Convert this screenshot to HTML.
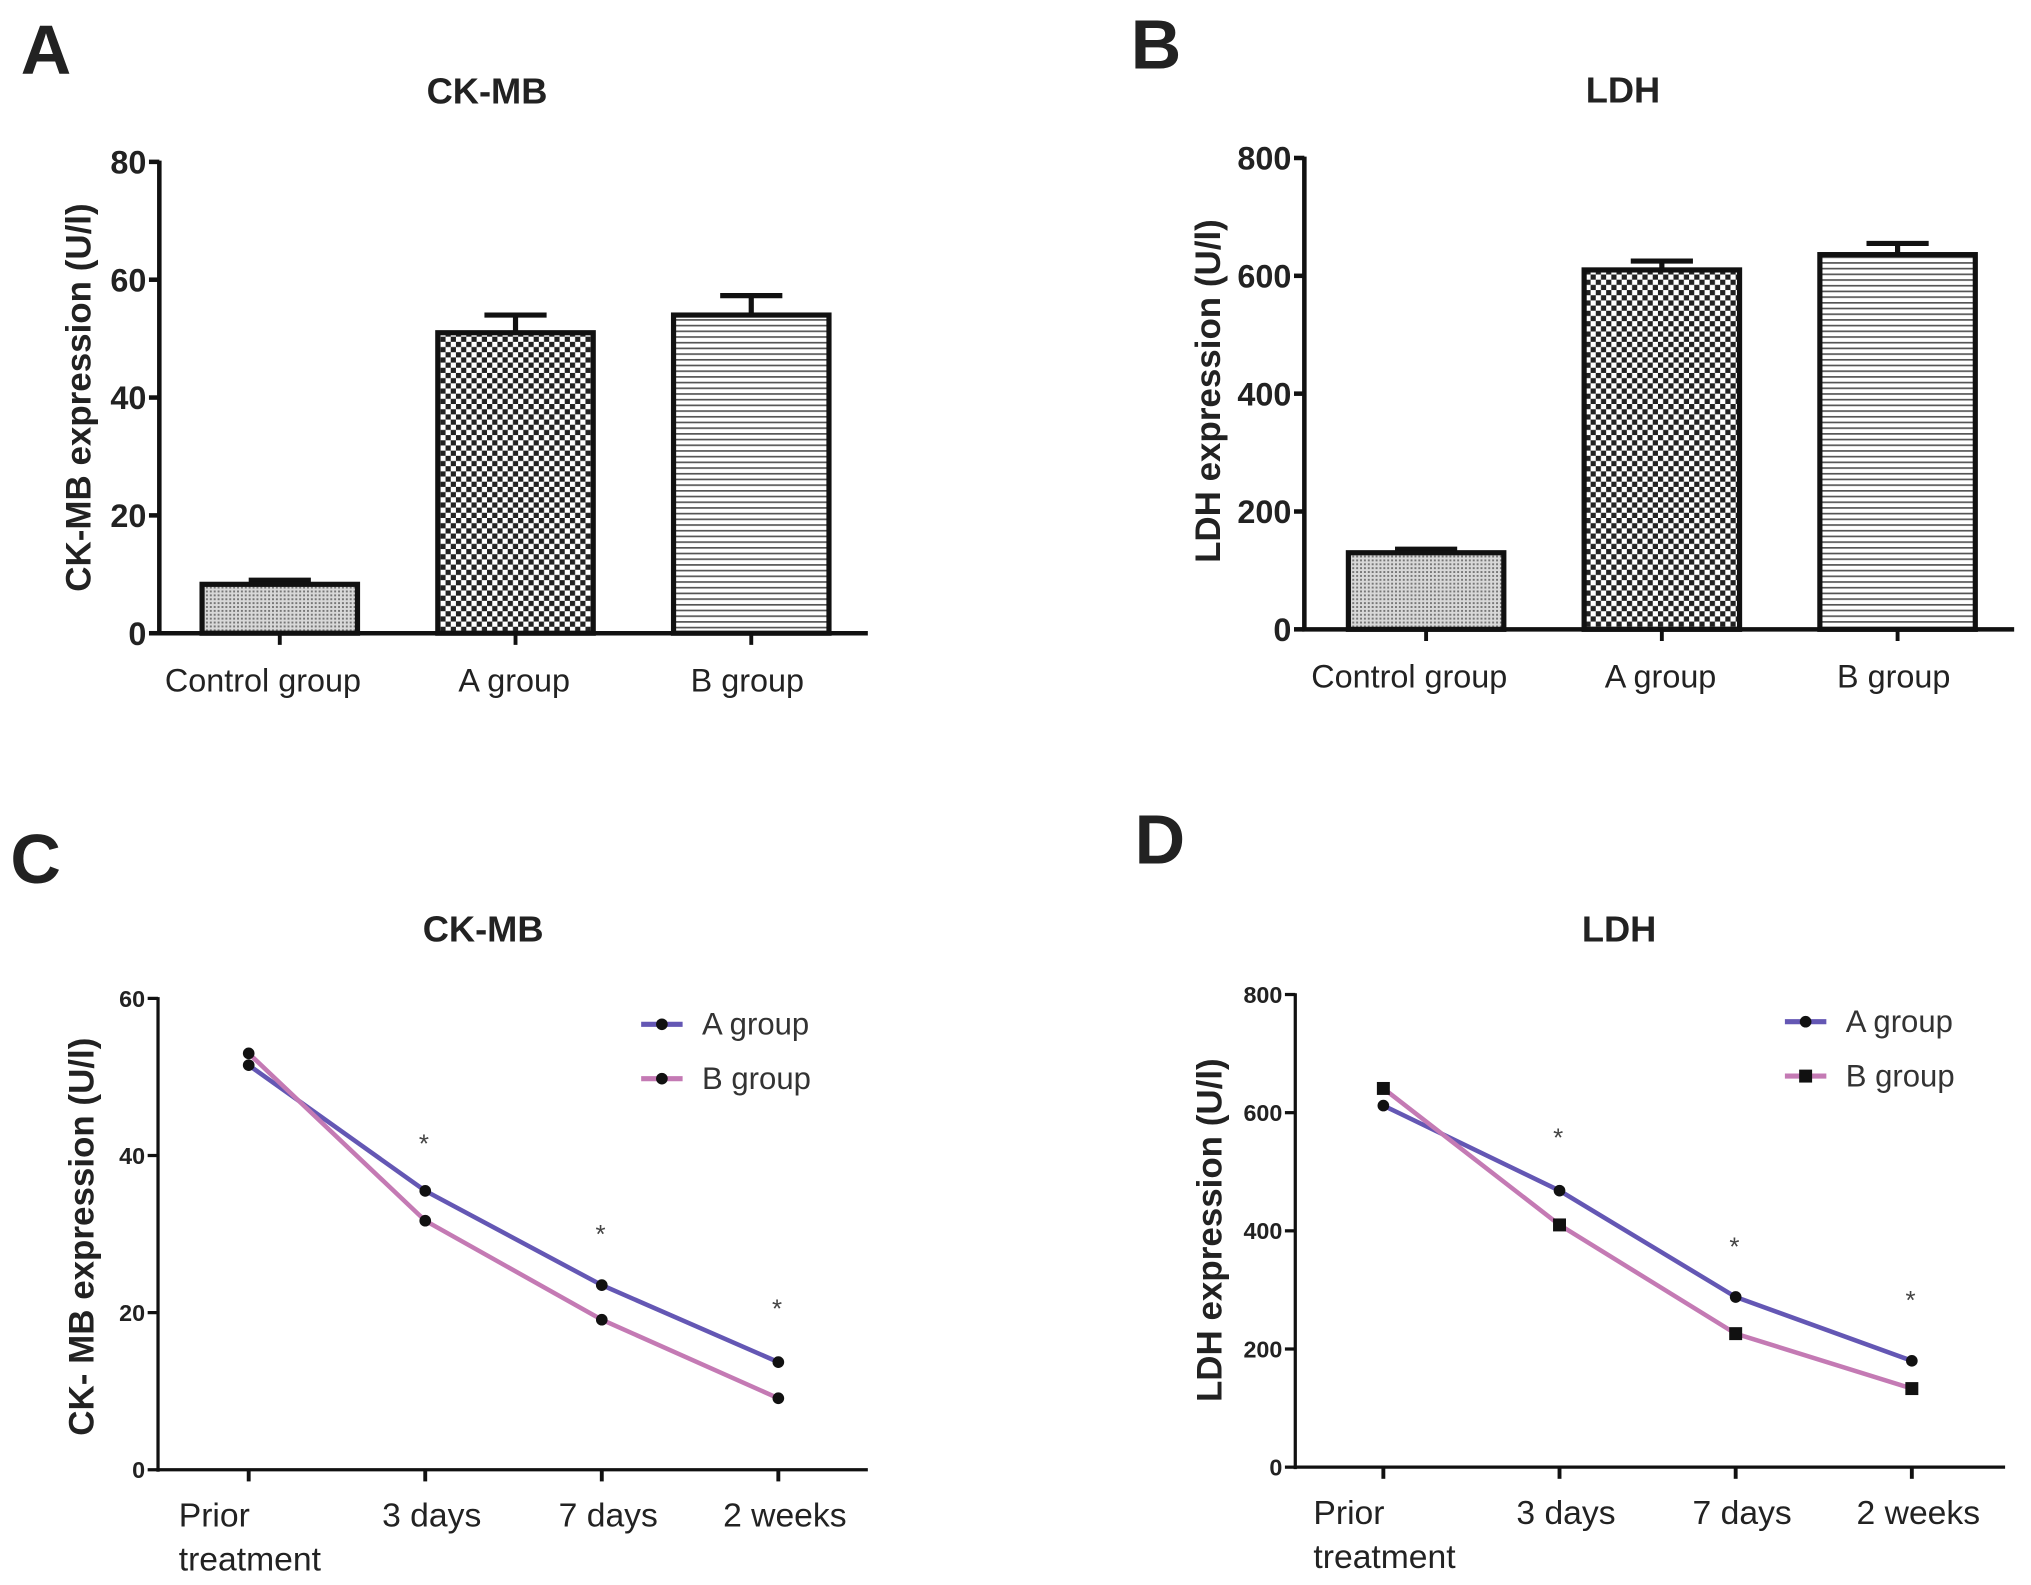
<!DOCTYPE html>
<html><head><meta charset="utf-8"><style>
html,body{margin:0;padding:0;background:#fff;}
svg{display:block;font-family:"Liberation Sans",Arial,sans-serif;}
</style></head><body>
<svg id="fig" width="2031" height="1585" viewBox="0 0 1568 1224" preserveAspectRatio="none" xmlns="http://www.w3.org/2000/svg">
<defs>
<pattern id="pCtrl" width="3" height="3" patternUnits="userSpaceOnUse"><rect width="3" height="3" fill="#d8d8d8"/><rect width="1.5" height="1.5" fill="#777"/></pattern>
<pattern id="pA" width="8" height="8" patternUnits="userSpaceOnUse"><rect width="8" height="8" fill="#fff"/><rect width="4" height="4" fill="#222"/><rect x="4" y="4" width="4" height="4" fill="#222"/></pattern>
<pattern id="pB" width="8" height="4.4" patternUnits="userSpaceOnUse"><rect width="8" height="4.4" fill="#fff"/><rect width="8" height="1.3" fill="#555"/></pattern>
</defs>
<g id="root"></g>
</svg>
<script>
// Panel A data
const barCats = ["Control group","A group","B group"];
const ckmbBar = [8.3, 51, 54];
const ckmbErr = [9, 54, 57.3];
const ckmbTicks = [0,20,40,60,80];
// Panel B data
const ldhBar = [130, 610, 636];
const ldhErr = [136, 625, 655];
const ldhTicks = [0,200,400,600,800];
// Panel C data
const timeCats = [["Prior","treatment"],["3 days"],["7 days"],["2 weeks"]];
const ckmbA = [51.5, 35.5, 23.5, 13.7];
const ckmbB = [53, 31.7, 19.1, 9.1];
const ckmbStars = [null, 42, 30.5, 21];
const ckmbLineTicks = [0,20,40,60];
// Panel D data
const ldhA = [612, 468, 288, 180];
const ldhB = [641, 410, 226, 133];
const ldhStars = [null, 565, 380, 290];
const ldhLineTicks = [0,200,400,600,800];

const NS="http://www.w3.org/2000/svg";
const root=document.getElementById('root');
function el(tag,attrs,parent,text){const e=document.createElementNS(NS,tag);for(const k in attrs)e.setAttribute(k,attrs[k]);if(text!==undefined)e.textContent=text;(parent||root).appendChild(e);return e;}

function axes(g,cfg,ticks){
  const {x0,x1,yTop,yBot,max}=cfg;
  const ys=v=>yBot-(v/max)*(yBot-yTop);
  const ya=el('line',{x1:x0,y1:yTop-1,x2:x0,y2:yBot+1.5,stroke:'#111','stroke-width':cfg.sw},g);
  
  const xa=el('line',{x1:x0-cfg.sw/2,y1:yBot,x2:x1,y2:yBot,stroke:'#111','stroke-width':cfg.sw},g);
  
  ticks.forEach(t=>{
    el('line',{x1:x0-8,y1:ys(t),x2:x0,y2:ys(t),stroke:'#111','stroke-width':cfg.sw},g);
    const tl=el('text',{x:x0-10,y:ys(t)+cfg.tfs*0.36,'text-anchor':'end','font-size':cfg.tfs,'font-weight':'bold',fill:'#222'},g,String(t));
    
  });
  return ys;
}
function texts(g,c){
  const L=el('text',{x:c.lx,y:c.ly,'font-size':54,'font-weight':'bold',fill:'#222'},g,c.letter);
  
  const T=el('text',{x:c.tx,y:c.ty,'text-anchor':'middle','font-size':28,'font-weight':'bold',fill:'#222'},g,c.title);
  
  const Y=el('text',{x:0,y:0,'text-anchor':'middle','font-size':27,'font-weight':'bold',fill:'#222',transform:`translate(${c.yx},${c.yy}) rotate(-90)`},g,c.ytitle);
  
}

function barPanel(cfg,vals,errs,ticks){
  const g=el('g',{});
  
  texts(g,cfg);
  const ys=axes(g,cfg,ticks);
  const fills=['url(#pCtrl)','url(#pA)','url(#pB)'];
  const lblOff=[-13,-1,-3];
  barCats.forEach((c,i)=>{
    const cx=cfg.c0+i*cfg.step, w=120;
    const e1=el('line',{x1:cx,y1:ys(vals[i]),x2:cx,y2:ys(errs[i]),stroke:'#111','stroke-width':4},g);
    
    el('line',{x1:cx-24,y1:ys(errs[i]),x2:cx+24,y2:ys(errs[i]),stroke:'#111','stroke-width':4},g);
    const b=el('rect',{x:cx-w/2,y:ys(vals[i]),width:w,height:cfg.yBot-ys(vals[i]),fill:fills[i],stroke:'#111','stroke-width':4},g);
    
    el('line',{x1:cx,y1:cfg.yBot,x2:cx,y2:cfg.yBot+9,stroke:'#111','stroke-width':3},g);
    const t=el('text',{x:cx+lblOff[i],y:cfg.yBot+45,'text-anchor':'middle','font-size':25,fill:'#222'},g,c);
    
  });
}

function linePanel(cfg,A,B,stars,ticks){
  const g=el('g',{});
  
  texts(g,cfg);
  const ys=axes(g,cfg,ticks);
  const xs=i=>cfg.c0+i*cfg.step;
  timeCats.forEach((c,i)=>{
    el('line',{x1:xs(i),y1:cfg.yBot,x2:xs(i),y2:cfg.yBot+9,stroke:'#111','stroke-width':3},g);
    c.forEach((s,k)=>{
      const t=el('text',{x:c.length>1?xs(i)-54:xs(i)+5,y:cfg.yBot+44+k*34,'text-anchor':c.length>1?'start':'middle','font-size':26,fill:'#222'},g,s);
      
    });
    if(stars[i]!==null){
      const st=el('text',{x:xs(i)-1,y:ys(stars[i])+10,'text-anchor':'middle','font-size':20,fill:'#444'},g,'*');
      
    }
  });
  const series=[{d:A,col:'#6457b4',name:'a-group',sq:false,lab:'A group'},{d:B,col:'#c47ab4',name:'b-group',sq:cfg.sq,lab:'B group'}];
  series.forEach((s,si)=>{
    const pl=el('polyline',{points:s.d.map((v,i)=>xs(i)+','+ys(v)).join(' '),fill:'none',stroke:s.col,'stroke-width':3.5},g);
    
    s.d.forEach((v,i)=>{
      const m=s.sq?el('rect',{x:xs(i)-5,y:ys(v)-5,width:10,height:10,fill:'#111'},g):el('circle',{cx:xs(i),cy:ys(v),r:4.5,fill:'#111'},g);
      
    });
    const ly=cfg.legY+si*42;
    const lg=el('g',{},g);
    
    el('line',{x1:cfg.legX,y1:ly,x2:cfg.legX+32,y2:ly,stroke:s.col,'stroke-width':4},lg);
    if(s.sq) el('rect',{x:cfg.legX+11,y:ly-5,width:10,height:10,fill:'#111'},lg);
    else el('circle',{cx:cfg.legX+16,cy:ly,r:4.5,fill:'#111'},lg);
    el('text',{x:cfg.legX+47,y:ly+8,'font-size':24,fill:'#333'},lg,s.lab);
  });
}

barPanel({name:'panel-a',letter:'A',lx:16,ly:57,title:'CK-MB',tx:376,ty:80,ytitle:'CK-MB expression (U/l)',yx:70,yy:307,
  x0:123,x1:670,yTop:125,yBot:489,max:80,sw:3.5,tfs:25,c0:216,step:182},ckmbBar,ckmbErr,ckmbTicks);
barPanel({name:'panel-b',letter:'B',lx:873,ly:53,title:'LDH',tx:1253,ty:79,ytitle:'LDH expression (U/l)',yx:942,yy:302,
  x0:1007,x1:1555,yTop:122,yBot:486,max:800,sw:3.5,tfs:25,c0:1101,step:182},ldhBar,ldhErr,ldhTicks);
linePanel({name:'panel-c',letter:'C',lx:8,ly:682,title:'CK-MB',tx:373,ty:727,ytitle:'CK- MB expression (U/l)',yx:72,yy:955,
  x0:122,x1:670,yTop:771,yBot:1135,max:60,sw:2.5,tfs:18,c0:192,step:136.3,legX:495,legY:791,sq:false},ckmbA,ckmbB,ckmbStars,ckmbLineTicks);
linePanel({name:'panel-d',letter:'D',lx:876,ly:667,title:'LDH',tx:1250,ty:727,ytitle:'LDH expression (U/l)',yx:943,yy:950,
  x0:1000,x1:1548,yTop:768,yBot:1133,max:800,sw:2.5,tfs:18,c0:1068,step:136,legX:1378,legY:789,sq:true},ldhA,ldhB,ldhStars,ldhLineTicks);
</script>
</body></html>
